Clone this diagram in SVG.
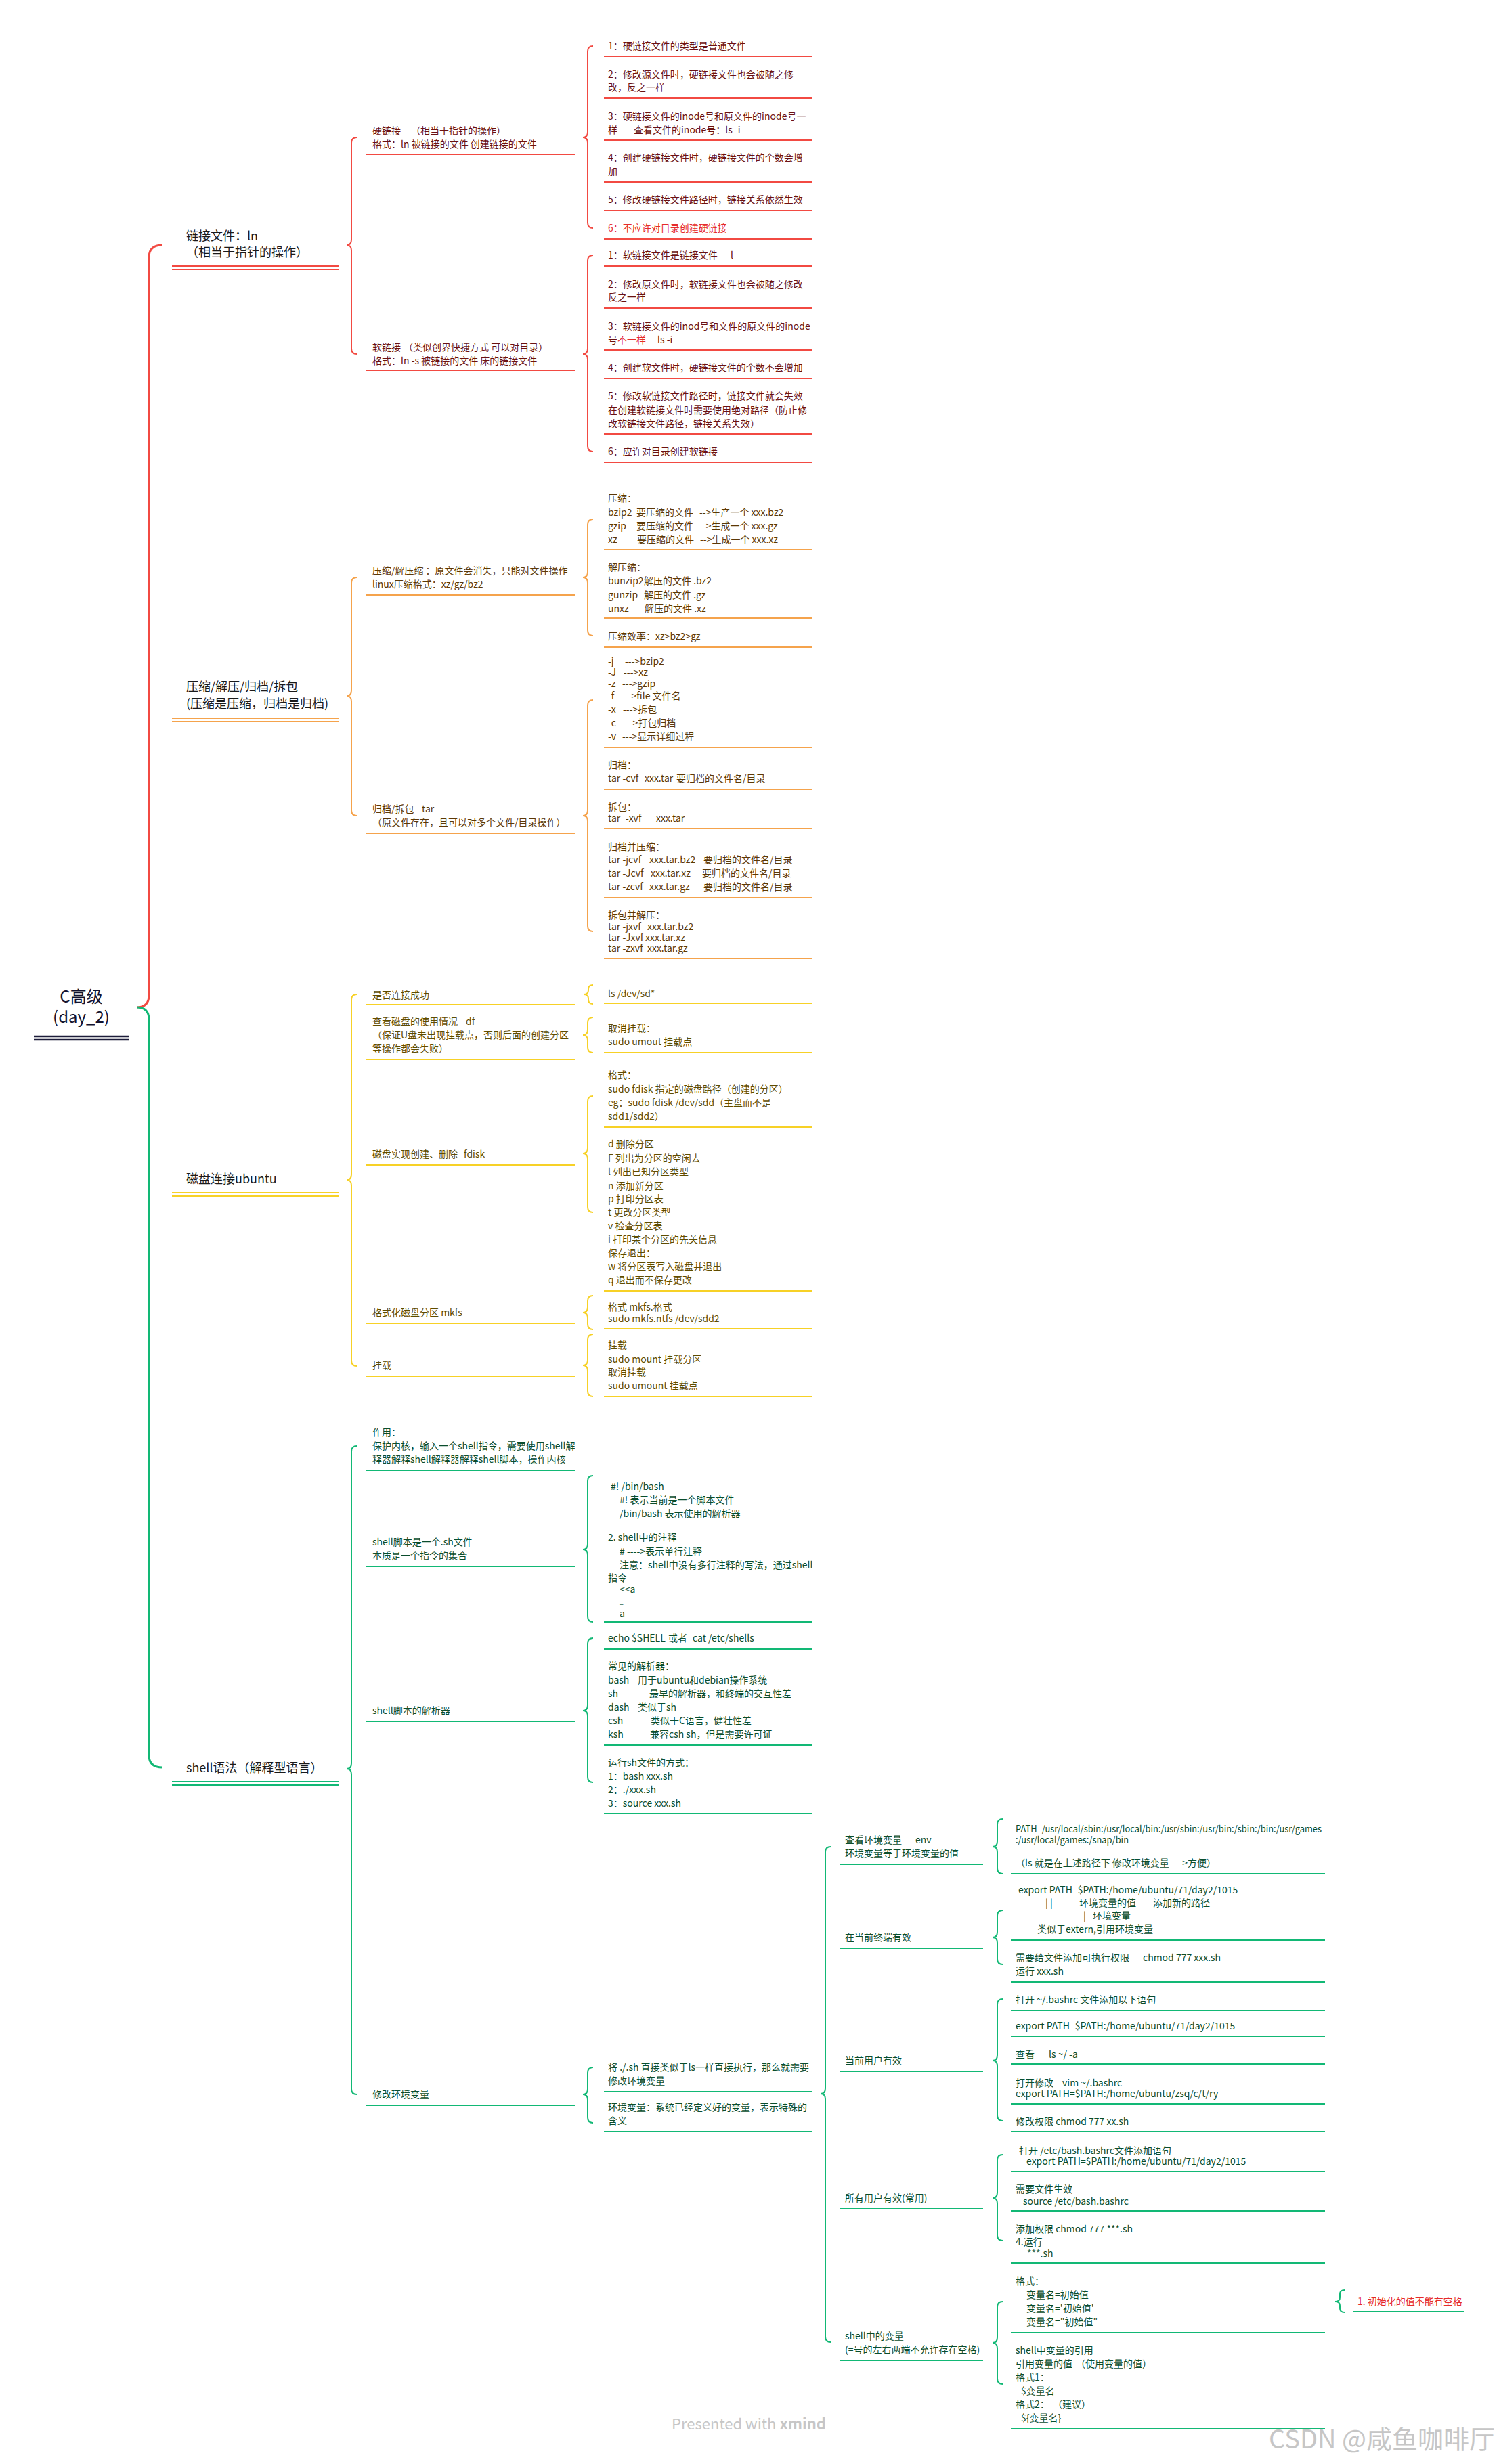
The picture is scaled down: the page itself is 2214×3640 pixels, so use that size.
<svg xmlns="http://www.w3.org/2000/svg" width="2214" height="3640" viewBox="0 0 2214 3640" xml:space="preserve">
<style>
text{font-family:"Noto Sans CJK SC","Noto Sans",sans-serif;font-size:14px}
.root{font-size:24px;fill:#12122e}
.l1{font-size:18px;fill:#1a1a1a}
.r{fill:#6b1111}.o{fill:#5c3806}.y{fill:#5f4c00}.g{fill:#0a4d2d}
.hot{fill:#e52b2b}
.wm{fill:#c6c6c6}
path{fill:none;stroke-width:2}
.R{stroke:#f24a42}.O{stroke:#f5a34c}.Y{stroke:#f7d126}.G{stroke:#12b875}
.K{stroke:#1c1c3a;stroke-width:2.5}
.M{stroke-width:3}
</style>
<rect width="2214" height="3640" fill="#ffffff"/>

<g id="connectors">
<path class="R M" d="M240,362 Q220,362 220,380 L220,1470 Q220,1488 202,1488"/>
<path class="G M" d="M202,1488 Q220,1488 220,1506 L220,2593 Q220,2611 240,2611"/>
<path class="R" d="M527,203 Q519,203 519,211 L519,354 Q519,362 512,362 Q519,362 519,370 L519,515 Q519,523 527,523"/>
<path class="O" d="M527,853 Q519,853 519,861 L519,1020 Q519,1028 512,1028 Q519,1028 519,1036 L519,1197 Q519,1205 527,1205"/>
<path class="Y" d="M527,1469 Q519,1469 519,1477 L519,1735 Q519,1743 512,1743 Q519,1743 519,1751 L519,2010 Q519,2018 527,2018"/>
<path class="G" d="M527,2136 Q519,2136 519,2144 L519,2605 Q519,2613 512,2613 Q519,2613 519,2621 L519,3086 Q519,3094 527,3094"/>
<path class="R" d="M876,68 Q868,68 868,76 L868,195 Q868,203 861,203 Q868,203 868,211 L868,329 Q868,337 876,337"/>
<path class="R" d="M876,377 Q868,377 868,385 L868,515 Q868,523 861,523 Q868,523 868,531 L868,659 Q868,667 876,667"/>
<path class="O" d="M876,767 Q868,767 868,775 L868,845 Q868,853 861,853 Q868,853 868,861 L868,931 Q868,939 876,939"/>
<path class="O" d="M876,1034 Q868,1034 868,1042 L868,1197 Q868,1205 861,1205 Q868,1205 868,1213 L868,1368 Q868,1376 876,1376"/>
<path class="Y" d="M876,1455 Q869,1455 869,1461 L869,1463 Q869,1469 862,1469 Q869,1469 869,1475 L869,1477 Q869,1483 876,1483"/>
<path class="Y" d="M876,1503 Q868,1503 868,1511 L868,1521 Q868,1529 861,1529 Q868,1529 868,1537 L868,1547 Q868,1555 876,1555"/>
<path class="Y" d="M876,1619 Q868,1619 868,1627 L868,1696 Q868,1704 861,1704 Q868,1704 868,1712 L868,1783 Q868,1791 876,1791"/>
<path class="Y" d="M876,1914 Q868,1914 868,1922 L868,1931 Q868,1939 861,1939 Q868,1939 868,1947 L868,1956 Q868,1964 876,1964"/>
<path class="Y" d="M876,1971 Q868,1971 868,1979 L868,2009 Q868,2017 861,2017 Q868,2017 868,2025 L868,2055 Q868,2063 876,2063"/>
<path class="G" d="M876,2180 Q868,2180 868,2188 L868,2281 Q868,2289 861,2289 Q868,2289 868,2297 L868,2388 Q868,2396 876,2396"/>
<path class="G" d="M876,2420 Q868,2420 868,2428 L868,2519 Q868,2527 861,2527 Q868,2527 868,2535 L868,2625 Q868,2633 876,2633"/>
<path class="G" d="M876,3054 Q868,3054 868,3062 L868,3086 Q868,3094 861,3094 Q868,3094 868,3102 L868,3128 Q868,3136 876,3136"/>
<path class="G" d="M1227,2728 Q1219,2728 1219,2736 L1219,3085 Q1219,3093 1212,3093 Q1219,3093 1219,3101 L1219,3452 Q1219,3460 1227,3460"/>
<path class="G" d="M1481,2687 Q1473,2687 1473,2695 L1473,2720 Q1473,2728 1466,2728 Q1473,2728 1473,2736 L1473,2760 Q1473,2768 1481,2768"/>
<path class="G" d="M1481,2822 Q1473,2822 1473,2830 L1473,2854 Q1473,2862 1466,2862 Q1473,2862 1473,2870 L1473,2894 Q1473,2902 1481,2902"/>
<path class="G" d="M1481,2953 Q1473,2953 1473,2961 L1473,3036 Q1473,3044 1466,3044 Q1473,3044 1473,3052 L1473,3125 Q1473,3133 1481,3133"/>
<path class="G" d="M1481,3183 Q1473,3183 1473,3191 L1473,3239 Q1473,3247 1466,3247 Q1473,3247 1473,3255 L1473,3302 Q1473,3310 1481,3310"/>
<path class="G" d="M1481,3400 Q1473,3400 1473,3408 L1473,3453 Q1473,3461 1466,3461 Q1473,3461 1473,3469 L1473,3514 Q1473,3522 1481,3522"/>
<path class="G" d="M1986,3383 Q1979,3383 1979,3389 L1979,3394 Q1979,3400 1972,3400 Q1979,3400 1979,3406 L1979,3410 Q1979,3416 1986,3416"/>
</g>

<g id="root">
<text class="root" x="120" y="1481" text-anchor="middle">C高级</text>
<text class="root" x="120" y="1511" text-anchor="middle">(day_2)</text>
<path class="K" d="M50,1531H190M50,1536H190"/>
</g>

<!-- RED: links -->
<g id="n-link">
<text class="l1" x="275" y="355">链接文件：ln</text>
<text class="l1" x="275" y="379">（相当于指针的操作）</text>
<path class="R" d="M254,393H500M254,398H500"/>
</g>
<g id="n-hard" class="r">
<text x="550" y="198">硬链接</text><text x="607" y="198">（相当于指针的操作）</text>
<text x="550" y="218">格式：ln 被链接的文件 创建链接的文件</text>
<path class="R" d="M541,228H849"/>
</g>
<g id="n-soft" class="r">
<text x="550" y="518">软链接</text><text x="596" y="518">（类似创界快捷方式 可以对目录）</text>
<text x="550" y="538">格式：ln -s 被链接的文件 床的链接文件</text>
<path class="R" d="M541,547H849"/>
</g>
<g id="n-hard-items" class="r">
<text x="898" y="73">1：硬链接文件的类型是普通文件  -</text>
<text x="898" y="115">2：修改源文件时，硬链接文件也会被随之修</text>
<text x="898" y="134">改，反之一样</text>
<text x="898" y="177">3：硬链接文件的inode号和原文件的inode号一</text>
<text x="898" y="197">样</text><text x="936" y="197">查看文件的inode号：ls -i</text>
<text x="898" y="238">4：创建硬链接文件时，硬链接文件的个数会增</text>
<text x="898" y="258">加</text>
<text x="898" y="300">5：修改硬链接文件路径时，链接关系依然生效</text>
<text x="898" y="342" class="hot">6：不应许对目录创建硬链接</text>
<path class="R" d="M892,83H1199M892,145H1199M892,207H1199M892,269H1199M892,311H1199M892,353H1199"/>
</g>
<g id="n-soft-items" class="r">
<text x="898" y="382">1：软链接文件是链接文件</text><text x="1079" y="382">l</text>
<text x="898" y="425">2：修改原文件时，软链接文件也会被随之修改</text>
<text x="898" y="444">反之一样</text>
<text x="898" y="487">3：软链接文件的inod号和文件的原文件的inode</text>
<text x="898" y="507">号</text><text x="912" y="507" class="hot">不一样</text><text x="971" y="507">ls -i</text>
<text x="898" y="548">4：创建软文件时，硬链接文件的个数不会增加</text>
<text x="898" y="590">5：修改软链接文件路径时，链接文件就会失效</text>
<text x="898" y="611">在创建软链接文件时需要使用绝对路径（防止修</text>
<text x="898" y="631">改软链接文件路径，链接关系失效）</text>
<text x="898" y="672">6：应许对目录创建软链接</text>
<path class="R" d="M892,393H1199M892,455H1199M892,517H1199M892,559H1199M892,641H1199M892,683H1199"/>
</g>

<!-- ORANGE: compression -->
<g id="n-compress">
<text class="l1" x="275" y="1021">压缩/解压/归档/拆包</text>
<text class="l1" x="275" y="1046">(压缩是压缩，归档是归档)</text>
<path class="O" d="M254,1061H500M254,1066H500"/>
</g>
<g id="n-zip" class="o">
<text x="550" y="848">压缩/解压缩 ：原文件会消失，只能对文件操作</text>
<text x="550" y="868">linux压缩格式：xz/gz/bz2</text>
<path class="O" d="M541,879H849"/>
</g>
<g id="n-tar" class="o">
<text x="550" y="1200">归档/拆包</text><text x="623" y="1200">tar</text>
<text x="550" y="1220">（原文件存在，且可以对多个文件/目录操作）</text>
<path class="O" d="M541,1231H849"/>
</g>
<g id="n-zip-items" class="o">
<text x="898" y="741">压缩：</text>
<text x="898" y="762">bzip2</text><text x="940" y="762">要压缩的文件</text><text x="1033" y="762">-->生产一个 xxx.bz2</text>
<text x="898" y="782">gzip</text><text x="940" y="782">要压缩的文件</text><text x="1033" y="782">-->生成一个 xxx.gz</text>
<text x="898" y="802">xz</text><text x="941" y="802">要压缩的文件</text><text x="1034" y="802">-->生成一个 xxx.xz</text>
<text x="898" y="843">解压缩：</text>
<text x="898" y="863">bunzip2</text><text x="951" y="863">解压的文件 .bz2</text>
<text x="898" y="884">gunzip</text><text x="951" y="884">解压的文件 .gz</text>
<text x="898" y="904">unxz</text><text x="952" y="904">解压的文件 .xz</text>
<text x="898" y="945">压缩效率：xz&gt;bz2&gt;gz</text>
<path class="O" d="M892,812H1199M892,913H1199M892,956H1199"/>
</g>
<g id="n-tar-items" class="o">
<text x="898" y="982">-j</text><text x="923" y="982">---&gt;bzip2</text>
<text x="898" y="998">-J</text><text x="921" y="998">---&gt;xz</text>
<text x="898" y="1015">-z</text><text x="919" y="1015">---&gt;gzip</text>
<text x="898" y="1033">-f</text><text x="918" y="1033">---&gt;file 文件名</text>
<text x="898" y="1053">-x</text><text x="920" y="1053">---&gt;拆包</text>
<text x="898" y="1073">-c</text><text x="920" y="1073">---&gt;打包归档</text>
<text x="898" y="1093">-v</text><text x="919" y="1093">---&gt;显示详细过程</text>
<text x="898" y="1135">归档：</text>
<text x="898" y="1155">tar -cvf</text><text x="952" y="1155">xxx.tar</text><text x="999" y="1155">要归档的文件名/目录</text>
<text x="898" y="1197">拆包：</text>
<text x="898" y="1214">tar</text><text x="924" y="1214">-xvf</text><text x="969" y="1214">xxx.tar</text>
<text x="898" y="1256">归档并压缩：</text>
<text x="898" y="1275">tar -jcvf</text><text x="959" y="1275">xxx.tar.bz2</text><text x="1039" y="1275">要归档的文件名/目录</text>
<text x="898" y="1295">tar -Jcvf</text><text x="961" y="1295">xxx.tar.xz</text><text x="1037" y="1295">要归档的文件名/目录</text>
<text x="898" y="1315">tar -zcvf</text><text x="959" y="1315">xxx.tar.gz</text><text x="1039" y="1315">要归档的文件名/目录</text>
<text x="898" y="1357">拆包并解压：</text>
<text x="898" y="1374">tar -jxvf</text><text x="956" y="1374">xxx.tar.bz2</text>
<text x="898" y="1390">tar -Jxvf</text><text x="953" y="1390">xxx.tar.xz</text>
<text x="898" y="1406">tar -zxvf</text><text x="956" y="1406">xxx.tar.gz</text>
<path class="O" d="M892,1104H1199M892,1166H1199M892,1224H1199M892,1326H1199M892,1416H1199"/>
</g>

<!-- YELLOW: disk -->
<g id="n-disk">
<text class="l1" x="275" y="1748">磁盘连接ubuntu</text>
<path class="Y" d="M254,1762H500M254,1767H500"/>
</g>
<g id="n-disk-l2" class="y">
<text x="550" y="1475">是否连接成功</text>
<text x="550" y="1514">查看磁盘的使用情况</text><text x="688" y="1514">df</text>
<text x="550" y="1534">（保证U盘未出现挂载点，否则后面的创建分区</text>
<text x="550" y="1554">等操作都会失败）</text>
<text x="550" y="1710">磁盘实现创建、删除</text><text x="685" y="1710">fdisk</text>
<text x="550" y="1944">格式化磁盘分区 mkfs</text>
<text x="550" y="2022">挂载</text>
<path class="Y" d="M541,1484H849M541,1565H849M541,1721H849M541,1955H849M541,2033H849"/>
</g>
<g id="n-disk-l3" class="y">
<text x="898" y="1473">ls /dev/sd*</text>
<text x="898" y="1524">取消挂载：</text>
<text x="898" y="1544">sudo  umout 挂载点</text>
<text x="898" y="1593">格式：</text>
<text x="898" y="1614">sudo fdisk 指定的磁盘路径（创建的分区）</text>
<text x="898" y="1634">eg：sudo fdisk /dev/sdd（主盘而不是</text>
<text x="898" y="1654">sdd1/sdd2）</text>
<text x="898" y="1695">d  删除分区</text>
<text x="898" y="1716">F  列出为分区的空闲去</text>
<text x="898" y="1736">l  列出已知分区类型</text>
<text x="898" y="1757">n  添加新分区</text>
<text x="898" y="1776">p  打印分区表</text>
<text x="898" y="1796">t  更改分区类型</text>
<text x="898" y="1816">v 检查分区表</text>
<text x="898" y="1836">i  打印某个分区的先关信息</text>
<text x="898" y="1856">保存退出：</text>
<text x="898" y="1876">w  将分区表写入磁盘并退出</text>
<text x="898" y="1896">q  退出而不保存更改</text>
<text x="898" y="1936">格式 mkfs.格式</text>
<text x="898" y="1953">sudo mkfs.ntfs  /dev/sdd2</text>
<text x="898" y="1992">挂载</text>
<text x="898" y="2013">sudo mount 挂载分区</text>
<text x="898" y="2032">取消挂载</text>
<text x="898" y="2052">sudo umount 挂载点</text>
<path class="Y" d="M892,1482H1199M892,1555H1199M892,1665H1199M892,1907H1199M892,1963H1199M892,2063H1199"/>
</g>

<!-- GREEN: shell -->
<g id="n-shell">
<text class="l1" x="275" y="2618">shell语法（解释型语言）</text>
<path class="G" d="M254,2632H500M254,2637H500"/>
</g>
<g id="n-shell-l2" class="g">
<text x="550" y="2121">作用：</text>
<text x="550" y="2141">保护内核，输入一个shell指令，需要使用shell解</text>
<text x="550" y="2161">释器解释shell解释器解释shell脚本，操作内核</text>
<text x="550" y="2283">shell脚本是一个.sh文件</text>
<text x="550" y="2303">本质是一个指令的集合</text>
<text x="550" y="2532">shell脚本的解析器</text>
<text x="550" y="3099">修改环境变量</text>
<path class="G" d="M541,2172H849M541,2314H849M541,2543H849M541,3110H849"/>
</g>
<g id="n-shell-l3" class="g">
<text x="902" y="2201">#!  /bin/bash</text>
<text x="915" y="2221">#!   表示当前是一个脚本文件</text>
<text x="915" y="2241">/bin/bash 表示使用的解析器</text>
<text x="898" y="2276">2. shell中的注释</text>
<text x="915" y="2297">#   ----&gt;表示单行注释</text>
<text x="915" y="2317">注意：shell中没有多行注释的写法，通过shell</text>
<text x="898" y="2336">指令</text>
<text x="915" y="2353">&lt;&lt;a</text>
<text x="915" y="2369" style="font-size:10px">_</text>
<text x="915" y="2389">a</text>
<text x="898" y="2425">echo $SHELL</text><text x="987" y="2425">或者</text><text x="1023" y="2425">cat /etc/shells</text>
<text x="898" y="2466">常见的解析器：</text>
<text x="898" y="2487">bash</text><text x="942" y="2487">用于ubuntu和debian操作系统</text>
<text x="898" y="2507">sh</text><text x="959" y="2507">最早的解析器，和终端的交互性差</text>
<text x="898" y="2527">dash</text><text x="942" y="2527">类似于sh</text>
<text x="898" y="2547">csh</text><text x="961" y="2547">类似于C语言，健壮性差</text>
<text x="898" y="2567">ksh</text><text x="960" y="2567">兼容csh sh，但是需要许可证</text>
<text x="898" y="2609">运行sh文件的方式：</text>
<text x="898" y="2629">1：bash xxx.sh</text>
<text x="898" y="2649">2：./xxx.sh</text>
<text x="898" y="2669">3：source xxx.sh</text>
<text x="898" y="3059">将 ./.sh 直接类似于ls一样直接执行，那么就需要</text>
<text x="898" y="3079">修改环境变量</text>
<text x="898" y="3118">环境变量：系统已经定义好的变量，表示特殊的</text>
<text x="898" y="3138">含义</text>
<path class="G" d="M892,2396H1199M892,2436H1199M892,2578H1199M892,2679H1199M892,3090H1199M892,3149H1199"/>
</g>
<g id="n-env-l4" class="g">
<text x="1248" y="2723">查看环境变量</text><text x="1352" y="2723">env</text>
<text x="1248" y="2743">环境变量等于环境变量的值</text>
<text x="1248" y="2867">在当前终端有效</text>
<text x="1248" y="3049">当前用户有效</text>
<text x="1248" y="3252">所有用户有效(常用)</text>
<text x="1248" y="3456">shell中的变量</text>
<text x="1248" y="3476">(=号的左右两端不允许存在空格)</text>
<path class="G" d="M1241,2754H1452M1241,2878H1452M1241,3060H1452M1241,3263H1452M1241,3487H1452"/>
</g>
<g id="n-env-l5" class="g">
<text x="1500" y="2707" textLength="452" lengthAdjust="spacingAndGlyphs">PATH=/usr/local/sbin:/usr/local/bin:/usr/sbin:/usr/bin:/sbin:/bin:/usr/games</text>
<text x="1500" y="2723" textLength="167" lengthAdjust="spacingAndGlyphs">:/usr/local/games:/snap/bin</text>
<text x="1500" y="2757">（ls  就是在上述路径下 修改环境变量----&gt;方便）</text>
<text x="1504" y="2797">export PATH=$PATH:/home/ubuntu/71/day2/1015</text>
<text x="1544" y="2816">| |</text><text x="1594" y="2816">环境变量的值</text><text x="1703" y="2816">添加新的路径</text>
<text x="1600" y="2835">|</text><text x="1614" y="2835">环境变量</text>
<text x="1532" y="2855">类似于extern,引用环境变量</text>
<text x="1500" y="2897">需要给文件添加可执行权限</text><text x="1688" y="2897">chmod 777 xxx.sh</text>
<text x="1500" y="2917">运行 xxx.sh</text>
<text x="1500" y="2959">打开 ~/.bashrc 文件添加以下语句</text>
<text x="1500" y="2998">export PATH=$PATH:/home/ubuntu/71/day2/1015</text>
<text x="1500" y="3040">查看</text><text x="1549" y="3040">ls ~/ -a</text>
<text x="1500" y="3082">打开修改</text><text x="1569" y="3082">vim ~/.bashrc</text>
<text x="1500" y="3098">export PATH=$PATH:/home/ubuntu/zsq/c/t/ry</text>
<text x="1500" y="3139">修改权限 chmod 777 xx.sh</text>
<text x="1505" y="3182">打开 /etc/bash.bashrc文件添加语句</text>
<text x="1516" y="3198">export PATH=$PATH:/home/ubuntu/71/day2/1015</text>
<text x="1500" y="3239">需要文件生效</text>
<text x="1511" y="3257">source /etc/bash.bashrc</text>
<text x="1500" y="3298">添加权限 chmod 777 ***.sh</text>
<text x="1500" y="3317">4.运行</text>
<text x="1517" y="3334">***.sh</text>
<text x="1500" y="3375">格式：</text>
<text x="1516" y="3395">变量名=初始值</text>
<text x="1516" y="3415">变量名='初始值'</text>
<text x="1516" y="3435">变量名="初始值"</text>
<text x="1500" y="3477">shell中变量的引用</text>
<text x="1500" y="3497">引用变量的值</text><text x="1589" y="3497">（使用变量的值）</text>
<text x="1500" y="3517">格式1：</text>
<text x="1508" y="3537">$变量名</text>
<text x="1500" y="3557">格式2：</text><text x="1555" y="3557">（建议）</text>
<text x="1508" y="3577">${变量名}</text>
<path class="G" d="M1493,2768H1957M1493,2866H1957M1493,2928H1957M1493,2970H1957M1493,3008H1957M1493,3049H1957M1493,3108H1957M1493,3149H1957M1493,3208H1957M1493,3266H1957M1493,3343H1957M1493,3446H1957M1493,3588H1957"/>
</g>
<g id="n-env-l6">
<text x="2005" y="3405" class="hot">1. 初始化的值不能有空格</text>
<path class="G" d="M1999,3415H2163"/>
</g>

<g id="watermarks">
<text class="wm" x="1106" y="3589" text-anchor="middle" style="font-size:22px">Presented with <tspan style="font-weight:bold">xmind</tspan></text>
<text class="wm" x="2208" y="3617" text-anchor="end" style="font-size:38px">CSDN @咸鱼咖啡厅</text>
</g>
</svg>
